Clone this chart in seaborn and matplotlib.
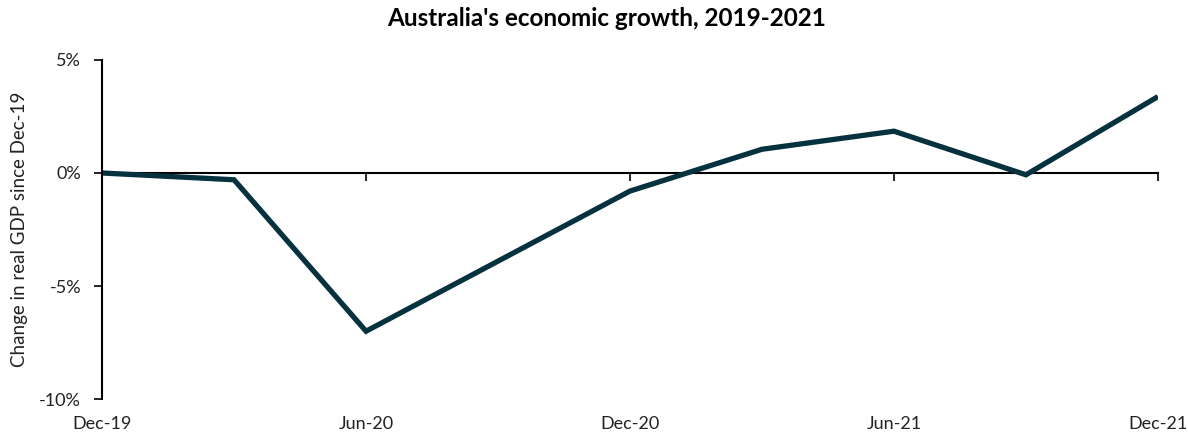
import matplotlib
matplotlib.use("Agg")
import matplotlib.pyplot as plt
import seaborn as sns
import numpy as np
import pandas as pd

# Quarterly real GDP, % change since Dec-19
quarters = ["Dec-19", "Mar-20", "Jun-20", "Sep-20", "Dec-20",
            "Mar-21", "Jun-21", "Sep-21", "Dec-21"]
gdp_change = [0.0, -0.3, -7.0, -3.9, -0.8, 1.05, 1.85, -0.08, 3.38]
label_quarters = ["Dec-19", "Jun-20", "Dec-20", "Jun-21", "Dec-21"]
y_ticks = [5, 0, -5, -10]

sns.set_theme(style="white")
plt.rcParams["font.family"] = ["Lato", "DejaVu Sans"]

df = pd.DataFrame({"quarter": quarters, "pos": np.arange(len(quarters)),
                   "change": gdp_change})

fig = plt.figure(figsize=(11.88, 4.34), dpi=100)
ax = fig.add_axes([0.0859, 0.0806, 0.8888, 0.7812])

sns.lineplot(data=df, x="pos", y="change", ax=ax, color="#06313f",
             linewidth=3.8, solid_joinstyle="miter", solid_capstyle="butt")

ax.set_xlim(0, len(quarters) - 1)
ax.set_ylim(-10, 5)

# y axis
ax.set_yticks(y_ticks)
ax.set_yticklabels([f"{v}%" for v in y_ticks], fontsize=13, color="#222222")
ax.tick_params(axis="y", which="both", left=True, length=6, width=1.2,
               color="black", pad=9, direction="out")
ax.spines["left"].set_color("black")
ax.spines["left"].set_linewidth(1.5)
for s in ["top", "right", "bottom"]:
    ax.spines[s].set_visible(False)

# x labels sit below the plot; the axis line itself crosses at zero
pos_map = dict(zip(quarters, df["pos"]))
label_pos = [pos_map[q] for q in label_quarters]
ax.set_xticks(label_pos)
ax.set_xticklabels(label_quarters, fontsize=13, color="#222222")
ax.tick_params(axis="x", which="both", bottom=True, length=0, pad=12)

zero_axis = ax.secondary_xaxis(0, transform=ax.transData)
zero_axis.set_xticks(label_pos)
zero_axis.set_xticklabels([])
zero_axis.tick_params(axis="x", length=6, width=1.2, color="black",
                      direction="out")
zero_axis.spines["bottom"].set_color("black")
zero_axis.spines["bottom"].set_linewidth(1.5)

ax.set_xlabel("")
ax.set_ylabel("Change in real GDP since Dec-19", fontsize=13.5, color="#222222",
              labelpad=8)
ax.grid(False)

fig.suptitle("Australia's economic growth, 2019-2021", fontsize=17.5,
             fontweight="bold", color="black", x=0.511, y=0.985)

fig.savefig("out.png", dpi=100)
